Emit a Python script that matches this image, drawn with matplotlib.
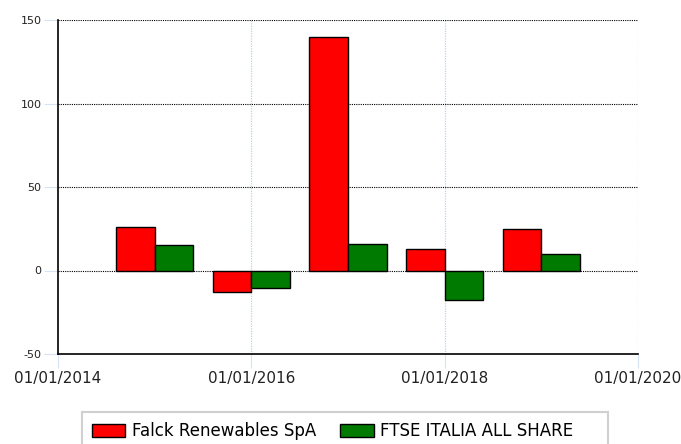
from datetime import datetime
import matplotlib
matplotlib.use('Agg')
import matplotlib.pyplot as plt
from matplotlib.patches import Rectangle
from matplotlib.dates import date2num, DateFormatter, YearLocator

# Dati (variazione annua %)
anni = [2015, 2016, 2017, 2018, 2019]
falck = [26.3, -12.6, 140.0, 12.6, 24.6]
ftse = [15.0, -10.2, 15.6, -17.4, 9.6]
nomi_serie = ['Falck Renewables SpA', 'FTSE ITALIA ALL SHARE']

plt.rcParams['font.family'] = ['DejaVu Sans']
plt.rcParams['axes.unicode_minus'] = False

W, H = 681, 444
fig = plt.figure(figsize=(W / 100, H / 100), dpi=100, facecolor='white')
ax = fig.add_axes([58 / W, 1 - 354 / H, 580 / W, 334 / H])

date = [date2num(datetime(a, 1, 1)) for a in anni]
larghezza = 146  # giorni

ax.bar(date, falck, width=-larghezza, align='edge', color='#ff0000',
       edgecolor='black', linewidth=1, label=nomi_serie[0], zorder=3)
ax.bar(date, ftse, width=larghezza, align='edge', color='#007a00',
       edgecolor='black', linewidth=1, label=nomi_serie[1], zorder=3)

ax.set_xlim(date2num(datetime(2014, 1, 1)), date2num(datetime(2020, 1, 1)))
ax.set_ylim(-50, 150)
ax.set_yticks([-50, 0, 50, 100, 150])
ax.xaxis.set_major_locator(YearLocator(2))
ax.xaxis.set_major_formatter(DateFormatter('%d/%m/%Y'))

# griglia: orizzontale nera puntinata, verticale azzurra
for y in [0, 50, 100, 150]:
    ax.axhline(y, color='black', linestyle=(0, (1, 1)), linewidth=0.8, zorder=2)
for a in [2016, 2018, 2020]:
    ax.axvline(date2num(datetime(a, 1, 1)), color='#bcd0f0', linestyle=(0, (1, 1)),
               linewidth=0.9, zorder=1)

for lato in ['top', 'right']:
    ax.spines[lato].set_visible(False)
ax.spines['left'].set_linewidth(1.2)
ax.spines['bottom'].set_linewidth(1.2)

ax.tick_params(axis='y', length=10, color='#d6e3f5', labelsize=8, pad=2,
               labelcolor='#222222')
ax.tick_params(axis='x', length=10, color='#d6e3f5', labelsize=11, pad=2,
               labelcolor='#222222')

# legenda sotto il grafico, cornice disegnata a parte
fig.patches.append(Rectangle((82 / W, 1 - 450 / H), 526 / W, 38 / H,
                             transform=fig.transFigure, facecolor='white',
                             edgecolor='#d0d0d0', linewidth=1.5, zorder=0))
leg = fig.legend(loc='upper left', bbox_to_anchor=(82 / W, 1 - 412 / H),
                 ncol=2, frameon=False, fontsize=12, borderaxespad=0,
                 handlelength=2.0, handleheight=0.85, columnspacing=1.45,
                 borderpad=0.6, handletextpad=0.4)

fig.savefig('out.png', dpi=100, facecolor='white')
